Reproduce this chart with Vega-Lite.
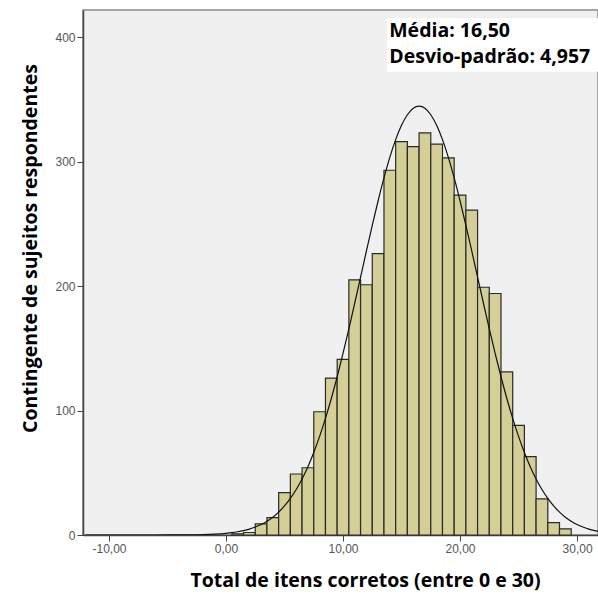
{
  "$schema": "https://vega.github.io/schema/vega-lite/v6.json",
  "autosize": {"type": "none"},
  "padding": {"left": 83, "top": 10, "right": 0, "bottom": 62},
  "width": 515,
  "height": 525,
  "background": "white",
  "config": {
    "view": {"fill": "#f0f0f0", "stroke": "#8a8a8a", "strokeWidth": 1.5},
    "axis": {
      "labelFont": "Liberation Sans", "labelFontSize": 12, "labelColor": "#555555",
      "titleFont": "Open Sans", "titleFontSize": 19.5, "titleFontWeight": "bold", "titleColor": "#000000",
      "domainColor": "#444444", "domainWidth": 1.5, "tickColor": "#444444", "tickSize": 6, "grid": false
    }
  },
  "datasets": {
    "bars": [
      {"score": 1, "from": 0.5, "to": 1.5, "count": 1},
      {"score": 2, "from": 1.5, "to": 2.5, "count": 2},
      {"score": 3, "from": 2.5, "to": 3.5, "count": 9},
      {"score": 4, "from": 3.5, "to": 4.5, "count": 14},
      {"score": 5, "from": 4.5, "to": 5.5, "count": 34},
      {"score": 6, "from": 5.5, "to": 6.5, "count": 49},
      {"score": 7, "from": 6.5, "to": 7.5, "count": 54},
      {"score": 8, "from": 7.5, "to": 8.5, "count": 99},
      {"score": 9, "from": 8.5, "to": 9.5, "count": 126},
      {"score": 10, "from": 9.5, "to": 10.5, "count": 141},
      {"score": 11, "from": 10.5, "to": 11.5, "count": 205},
      {"score": 12, "from": 11.5, "to": 12.5, "count": 201},
      {"score": 13, "from": 12.5, "to": 13.5, "count": 226},
      {"score": 14, "from": 13.5, "to": 14.5, "count": 293},
      {"score": 15, "from": 14.5, "to": 15.5, "count": 316},
      {"score": 16, "from": 15.5, "to": 16.5, "count": 312},
      {"score": 17, "from": 16.5, "to": 17.5, "count": 323},
      {"score": 18, "from": 17.5, "to": 18.5, "count": 314},
      {"score": 19, "from": 18.5, "to": 19.5, "count": 303},
      {"score": 20, "from": 19.5, "to": 20.5, "count": 273},
      {"score": 21, "from": 20.5, "to": 21.5, "count": 261},
      {"score": 22, "from": 21.5, "to": 22.5, "count": 199},
      {"score": 23, "from": 22.5, "to": 23.5, "count": 194},
      {"score": 24, "from": 23.5, "to": 24.5, "count": 131},
      {"score": 25, "from": 24.5, "to": 25.5, "count": 88},
      {"score": 26, "from": 25.5, "to": 26.5, "count": 63},
      {"score": 27, "from": 26.5, "to": 27.5, "count": 29},
      {"score": 28, "from": 27.5, "to": 28.5, "count": 10},
      {"score": 29, "from": 28.5, "to": 29.5, "count": 5}
    ],
    "curve": [
      {"x": -12, "y": 0},
      {"x": -8, "y": 0.002},
      {"x": -6, "y": 0.011},
      {"x": -5, "y": 0.028},
      {"x": -4, "y": 0.067},
      {"x": -3, "y": 0.15},
      {"x": -2, "y": 0.326},
      {"x": -1, "y": 0.678},
      {"x": 0, "y": 1.353},
      {"x": 0.5, "y": 1.88},
      {"x": 1, "y": 2.595},
      {"x": 1.5, "y": 3.54},
      {"x": 2, "y": 4.777},
      {"x": 2.5, "y": 6.38},
      {"x": 3, "y": 8.446},
      {"x": 3.5, "y": 11.06},
      {"x": 4, "y": 14.335},
      {"x": 4.5, "y": 18.39},
      {"x": 5, "y": 23.36},
      {"x": 5.5, "y": 29.37},
      {"x": 6, "y": 36.54},
      {"x": 6.5, "y": 45.03},
      {"x": 7, "y": 54.9},
      {"x": 7.5, "y": 66.28},
      {"x": 8, "y": 79.2},
      {"x": 8.5, "y": 93.67},
      {"x": 9, "y": 109.67},
      {"x": 9.5, "y": 127.1},
      {"x": 10, "y": 145.82},
      {"x": 10.5, "y": 165.59},
      {"x": 11, "y": 186.15},
      {"x": 11.5, "y": 207.14},
      {"x": 12, "y": 228.16},
      {"x": 12.5, "y": 248.77},
      {"x": 13, "y": 268.49},
      {"x": 13.5, "y": 286.85},
      {"x": 14, "y": 303.36},
      {"x": 14.5, "y": 317.57},
      {"x": 15, "y": 329.08},
      {"x": 15.5, "y": 337.56},
      {"x": 16, "y": 342.75},
      {"x": 16.5, "y": 344.5},
      {"x": 17, "y": 342.75},
      {"x": 17.5, "y": 337.56},
      {"x": 18, "y": 329.08},
      {"x": 18.5, "y": 317.57},
      {"x": 19, "y": 303.36},
      {"x": 19.5, "y": 286.85},
      {"x": 20, "y": 268.49},
      {"x": 20.5, "y": 248.77},
      {"x": 21, "y": 228.16},
      {"x": 21.5, "y": 207.14},
      {"x": 22, "y": 186.15},
      {"x": 22.5, "y": 165.59},
      {"x": 23, "y": 145.82},
      {"x": 23.5, "y": 127.1},
      {"x": 24, "y": 109.67},
      {"x": 24.5, "y": 93.67},
      {"x": 25, "y": 79.2},
      {"x": 25.5, "y": 66.28},
      {"x": 26, "y": 54.9},
      {"x": 26.5, "y": 45.03},
      {"x": 27, "y": 36.54},
      {"x": 27.5, "y": 29.37},
      {"x": 28, "y": 23.36},
      {"x": 28.5, "y": 18.39},
      {"x": 29, "y": 14.335},
      {"x": 29.5, "y": 11.06},
      {"x": 30, "y": 8.446},
      {"x": 30.5, "y": 6.38},
      {"x": 31, "y": 4.777},
      {"x": 31.5, "y": 3.54},
      {"x": 32, "y": 2.595}
    ],
    "stats": [
      {"line": 1, "label": "Média: 16,50"},
      {"line": 2, "label": "Desvio-padrão: 4,957"}
    ]
  },
  "layer": [
    {
      "data": {"name": "bars"},
      "mark": {"type": "rect", "fill": "#d3cf97", "stroke": "#2a2a2a", "strokeWidth": 1.2},
      "encoding": {
        "x": {
          "field": "from", "type": "quantitative",
          "scale": {"domain": [-12.22, 31.79], "nice": false, "zero": false},
          "axis": {
            "values": [-10, 0, 10, 20, 30],
            "labelExpr": "replace(replace(format(datum.value, '.2f'), '.', ','), '\u2212', '-')",
            "title": "Total de itens corretos (entre 0 e 30)",
            "titleX": 282, "titlePadding": 17
          }
        },
        "x2": {"field": "to"},
        "y": {
          "field": "count", "type": "quantitative",
          "scale": {"domain": [0, 421.7], "nice": false},
          "axis": {"values": [0, 100, 200, 300, 400], "title": "Contingente de sujeitos respondentes", "titlePadding": 14, "titleY": 238}
        },
        "y2": {"datum": 0}
      }
    },
    {
      "data": {"name": "curve"},
      "mark": {"type": "line", "color": "#111111", "strokeWidth": 1.2, "interpolate": "monotone", "clip": true},
      "encoding": {
        "x": {"field": "x", "type": "quantitative"},
        "y": {"field": "y", "type": "quantitative"}
      }
    },
    {
      "data": {"values": [{"box": 1}]},
      "mark": {"type": "rect", "fill": "white", "clip": true},
      "encoding": {
        "x": {"datum": 13.76},
        "x2": {"datum": 32},
        "y": {"datum": 415},
        "y2": {"datum": 372}
      }
    },
    {
      "data": {"name": "stats"},
      "transform": [{"filter": "datum.line == 1"}],
      "mark": {"type": "text", "align": "left", "baseline": "alphabetic", "font": "Open Sans", "fontSize": 19.5, "fontWeight": "bold", "color": "#000000"},
      "encoding": {
        "x": {"datum": 13.95},
        "y": {"datum": 400},
        "text": {"field": "label"}
      }
    },
    {
      "data": {"name": "stats"},
      "transform": [{"filter": "datum.line == 2"}],
      "mark": {"type": "text", "align": "left", "baseline": "alphabetic", "font": "Open Sans", "fontSize": 19.5, "fontWeight": "bold", "color": "#000000"},
      "encoding": {
        "x": {"datum": 13.95},
        "y": {"datum": 379},
        "text": {"field": "label"}
      }
    }
  ]
}
